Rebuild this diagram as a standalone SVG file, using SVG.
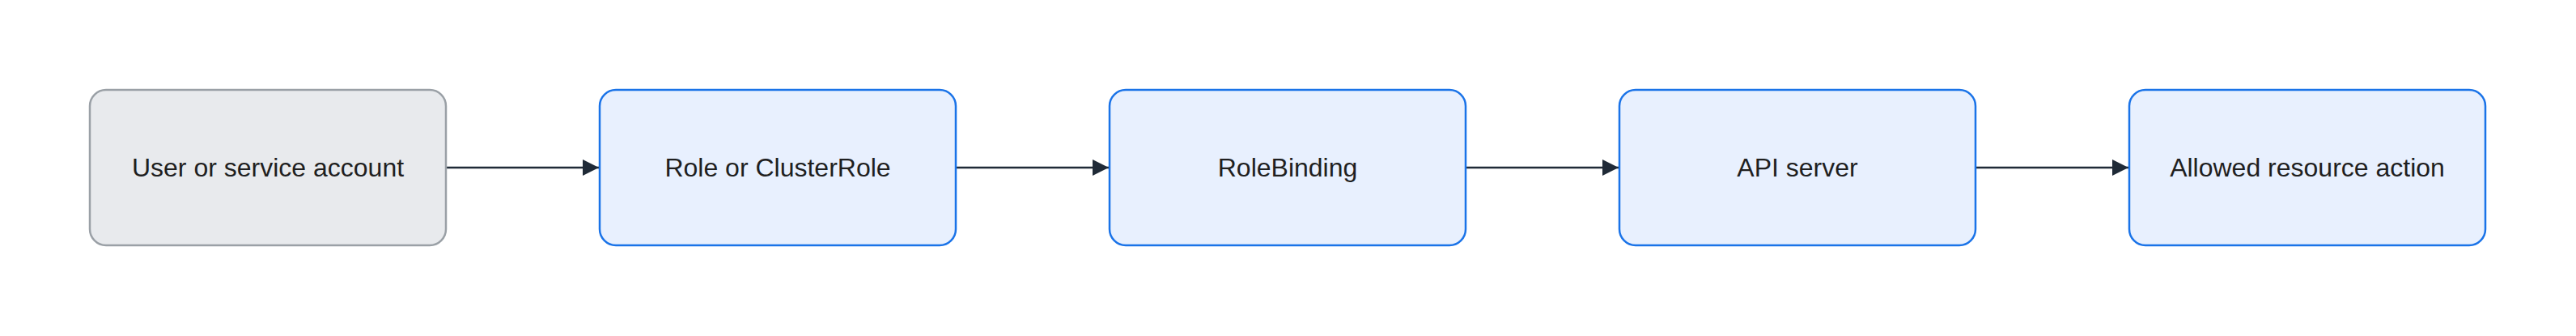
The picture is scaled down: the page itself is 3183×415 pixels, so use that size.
<svg xmlns="http://www.w3.org/2000/svg" width="3183" height="415" viewBox="0 0 3183 415">
  <style>
    .box { stroke-width: 2.5; }
    .gray { fill: #e8eaed; stroke: #9aa0a6; }
    .blue { fill: #e8f0fe; stroke: #1a73e8; }
    .label { font-family: "Liberation Sans", Arial, sans-serif; font-size: 32px; fill: #1f1f1f; text-anchor: middle; }
    .edge { stroke: #1f2a37; stroke-width: 2.5; fill: none; }
  </style>
  <defs>
    <marker id="arrow" markerWidth="20" markerHeight="20" refX="20" refY="10" orient="auto" markerUnits="userSpaceOnUse">
      <path d="M0,0 L20,10 L0,20 Z" fill="#1f2a37"/>
    </marker>
  </defs>
  <rect width="3183" height="415" fill="#ffffff"/>
  <g id="connectors">
    <line class="edge" x1="551" y1="207" x2="740" y2="207" marker-end="url(#arrow)"/>
    <line class="edge" x1="1181" y1="207" x2="1370" y2="207" marker-end="url(#arrow)"/>
    <line class="edge" x1="1811" y1="207" x2="2000" y2="207" marker-end="url(#arrow)"/>
    <line class="edge" x1="2441" y1="207" x2="2630" y2="207" marker-end="url(#arrow)"/>
  </g>
  <g id="node-user">
    <rect class="box gray" x="111" y="111" width="440" height="192" rx="20" ry="20"/>
    <text class="label" x="331" y="218">User or service account</text>
  </g>
  <g id="node-role">
    <rect class="box blue" x="741" y="111" width="440" height="192" rx="20" ry="20"/>
    <text class="label" x="961" y="218">Role or ClusterRole</text>
  </g>
  <g id="node-rolebinding">
    <rect class="box blue" x="1371" y="111" width="440" height="192" rx="20" ry="20"/>
    <text class="label" x="1591" y="218">RoleBinding</text>
  </g>
  <g id="node-apiserver">
    <rect class="box blue" x="2001" y="111" width="440" height="192" rx="20" ry="20"/>
    <text class="label" x="2221" y="218">API server</text>
  </g>
  <g id="node-allowed">
    <rect class="box blue" x="2631" y="111" width="440" height="192" rx="20" ry="20"/>
    <text class="label" x="2851" y="218">Allowed resource action</text>
  </g>
</svg>
